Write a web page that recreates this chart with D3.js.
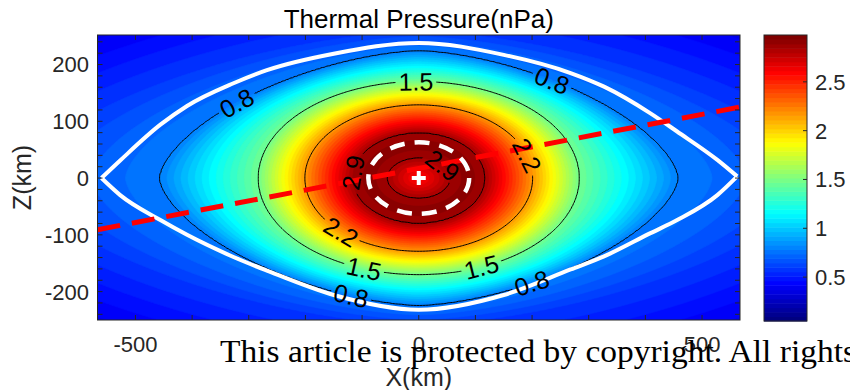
<!DOCTYPE html>
<meta charset="utf-8">
<head>
<style>
  body { margin: 0; background: white; }
  svg { display: block; font-family: "Liberation Sans", Arial, Helvetica, sans-serif; }
</style>
<script src="https://cdn.jsdelivr.net/npm/d3@7"></script>
</head>
<body>
<svg id="chart" width="850" height="390"></svg>
<script>
// axis ranges (km) and colour range (nPa)
const xDomain = [-567, 567]
const zDomain = [-250, 252]
const cDomain = [0.05, 2.98]

// pressure profile: each ring is the contour of that value
// (semi-axes in km, shape exponent 2 = ellipse), from the centre outwards
const profileValue = [2.6, 2.9, 2.98, 2.9, 2.2, 1.5, 0.8, 0.6, 0.4, 0.2]
const profileSemiX = [1, 55, 88, 117, 201, 283, 457, 700, 950, 1300]
const profileSemiZ = [1, 35, 58, 80, 129, 170, 224, 258, 350, 460]
const profilePower = [2, 2, 2, 2, 2, 2, 1.6, 1.6, 1.6, 1.6]

const lineLevels = [0.8, 1.5, 2.2, 2.9]
const bandLevels = d3.range(1, 60).map(i => +(i * 0.05).toFixed(2))

// contour labels: which ring, and where on it (degrees around the ring)
const labelRing = [6, 6, 6, 6, 5, 5, 5, 4, 4, 3, 1]
const labelAngle = [139, 54, 250, 301, 91, 250, 293, 18, 227, 173, 40]

// white boundary curve
const boundaryX = [-560, -527, -456, -409, -327, -268, -150, 0, 150, 268, 327, 409, 456, 527, 562]
const boundaryTop = [0, 31, 94, 127, 167, 190, 219, 238, 217, 185, 161, 114, 82, 32, 3]
const boundaryBottom = [0, -30, -74, -100, -139, -163, -206, -232, -206, -161, -138, -97, -74, -30, 3]

// red dashed line (end points), white dashed ring (semi-axes), centre marker
const redLineX = [-567, 567]
const redLineZ = [-91, 125]
const ringSemi = [89, 63]
const markerX = [0]
const markerZ = [0]

const xTicks = d3.range(-500, 501, 100)
const xTickLabels = [-500, 0, 500]
const zTicks = d3.range(-240, 241, 20)
const zTickLabels = [-200, -100, 0, 100, 200]
const cTicks = [0.5, 1, 1.5, 2, 2.5]

const ink = "#262626"

function jet(t) {
    t = Math.max(0, Math.min(1, t))
    let c = v => Math.round(255 * Math.max(0, Math.min(1, v)))
    return d3.rgb(c(1.5 - Math.abs(4 * t - 3)), c(1.5 - Math.abs(4 * t - 2)), c(1.5 - Math.abs(4 * t - 1))).toString()
}

function pressureAt(x, z) {
    let n = profileValue.length
    let shape = s => {
        let k = Math.min(Math.floor(s), n - 2), f = s - k
        let a = profileSemiX[k] + f * (profileSemiX[k + 1] - profileSemiX[k])
        let b = profileSemiZ[k] + f * (profileSemiZ[k + 1] - profileSemiZ[k])
        let p = profilePower[k] + f * (profilePower[k + 1] - profilePower[k])
        return Math.pow(Math.abs(x) / a, p) + Math.pow(Math.abs(z) / b, p)
    }
    if (shape(0) <= 1) return profileValue[0]
    if (shape(n - 1) >= 1) return profileValue[n - 1]
    let lo = 0, hi = n - 1
    for (let it = 0; it < 28; it++) {
        let mid = (lo + hi) / 2
        if (shape(mid) > 1) lo = mid; else hi = mid
    }
    let s = (lo + hi) / 2
    let k = Math.min(Math.floor(s), n - 2), f = s - k
    return profileValue[k] + f * (profileValue[k + 1] - profileValue[k])
}

function ringPoint(k, deg) {
    let t = deg * Math.PI / 180, p = profilePower[k]
    let c = Math.cos(t), s = Math.sin(t)
    return [profileSemiX[k] * Math.sign(c) * Math.pow(Math.abs(c), 2 / p),
            profileSemiZ[k] * Math.sign(s) * Math.pow(Math.abs(s), 2 / p)]
}

function draw() {
    let svg = d3.select("#chart")
    let plot = { left: 97.5, right: 740, top: 35, bottom: 320 }
    let bar = { left: 764, right: 807, top: 35, bottom: 321 }

    let xScale = d3.scaleLinear().domain(xDomain).range([plot.left, plot.right])
    let zScale = d3.scaleLinear().domain(zDomain).range([plot.bottom, plot.top])
    let cScale = d3.scaleLinear().domain(cDomain).range([bar.bottom, bar.top])
    let color = d3.scaleSequential(jet).domain(cDomain)

    svg.append("defs").append("clipPath").attr("id", "plotClip")
        .append("rect")
        .attr("x", plot.left).attr("y", plot.top)
        .attr("width", plot.right - plot.left).attr("height", plot.bottom - plot.top)

    // sample the field on a grid covering the axes
    let nx = 430, ny = 190
    let dx = (xDomain[1] - xDomain[0]) / nx, dz = (zDomain[1] - zDomain[0]) / ny
    let values = new Float64Array(nx * ny)
    for (let j = 0; j < ny; j++) {
        for (let i = 0; i < nx; i++) {
            values[j * nx + i] = pressureAt(xDomain[0] + (i + 0.5) * dx, zDomain[1] - (j + 0.5) * dz)
        }
    }
    let gridPath = d3.geoPath(d3.geoTransform({
        point: function (gx, gy) {
            this.stream.point(xScale(xDomain[0] + gx * dx), zScale(zDomain[1] - gy * dz))
        }
    }))

    let body = svg.append("g").attr("clip-path", "url(#plotClip)")
    body.append("rect")
        .attr("x", plot.left).attr("y", plot.top)
        .attr("width", plot.right - plot.left).attr("height", plot.bottom - plot.top)
        .attr("fill", color(cDomain[0]))

    let bands = d3.contours().size([nx, ny]).thresholds(bandLevels)(values)
    body.append("g").selectAll("path")
        .data(bands)
        .enter().append("path")
        .attr("d", gridPath)
        .attr("fill", d => color(d.value))
        .attr("stroke", d => color(d.value))
        .attr("stroke-width", 0.6)

    // where the contour labels sit, and their rotation along the ring
    let labels = labelRing.map((k, i) => {
        let p = ringPoint(k, labelAngle[i])
        let p1 = ringPoint(k, labelAngle[i] - 0.5), p2 = ringPoint(k, labelAngle[i] + 0.5)
        let ang = Math.atan2(zScale(p2[1]) - zScale(p1[1]), xScale(p2[0]) - xScale(p1[0])) * 180 / Math.PI
        if (ang > 90) ang -= 180
        if (ang <= -90) ang += 180
        return { text: String(profileValue[k]), cx: xScale(p[0]), cy: zScale(p[1]), ang }
    })

    let mask = svg.select("defs").append("mask").attr("id", "gapMask")
    mask.append("rect").attr("x", 0).attr("y", 0).attr("width", 850).attr("height", 390).attr("fill", "white")

    let lines = d3.contours().size([nx, ny]).thresholds(lineLevels)(values)
    body.append("g").attr("mask", "url(#gapMask)")
        .selectAll("path")
        .data(lines)
        .enter().append("path")
        .attr("d", gridPath)
        .attr("fill", "none")
        .attr("stroke", "black")
        .attr("stroke-width", 1)

    // white boundary
    let boundaryLine = d3.line().curve(d3.curveMonotoneX)
    ;[boundaryTop, boundaryBottom].forEach(zs => {
        body.append("path")
            .attr("d", boundaryLine(boundaryX.map((x, i) => [xScale(x), zScale(zs[i])])))
            .attr("fill", "none")
            .attr("stroke", "white")
            .attr("stroke-width", 4)
    })

    // red dashed line
    body.append("line")
        .attr("x1", xScale(redLineX[0])).attr("y1", zScale(redLineZ[0]))
        .attr("x2", xScale(redLineX[1])).attr("y2", zScale(redLineZ[1]))
        .attr("stroke", "#ff0000")
        .attr("stroke-width", 5)
        .attr("stroke-dasharray", "23,12")

    // white dashed ring
    body.append("ellipse")
        .attr("cx", xScale(0)).attr("cy", zScale(0))
        .attr("rx", xScale(ringSemi[0]) - xScale(0))
        .attr("ry", zScale(0) - zScale(ringSemi[1]))
        .attr("fill", "none")
        .attr("stroke", "white")
        .attr("stroke-width", 4.5)
        .attr("stroke-dasharray", "15,10")

    let labelText = body.append("g").selectAll("text")
        .data(labels)
        .enter().append("text")
        .attr("transform", d => `translate(${d.cx},${d.cy}) rotate(${d.ang})`)
        .attr("text-anchor", "middle")
        .attr("dy", "0.36em")
        .attr("font-size", 25)
        .attr("fill", "black")
        .text(d => d.text)

    labelText.each(function (d) {
        let w = this.getComputedTextLength() + 6
        mask.append("rect")
            .attr("x", -w / 2).attr("y", -10).attr("width", w).attr("height", 20)
            .attr("transform", `translate(${d.cx},${d.cy}) rotate(${d.ang})`)
            .attr("fill", "black")
    })

    // centre marker
    body.selectAll(".marker")
        .data(markerX)
        .enter().append("path")
        .attr("class", "marker")
        .attr("d", (d, i) => {
            let cx = xScale(d), cy = zScale(markerZ[i])
            return `M${cx - 7},${cy}H${cx + 7}M${cx},${cy - 7}V${cy + 7}`
        })
        .attr("stroke", "white")
        .attr("stroke-width", 4)

    // axes box and ticks
    let frame = svg.append("g").attr("stroke", ink).attr("stroke-width", 1).attr("fill", "none")
    frame.append("rect")
        .attr("x", plot.left).attr("y", plot.top)
        .attr("width", plot.right - plot.left).attr("height", plot.bottom - plot.top)
    frame.selectAll(".xt").data(xTicks).enter().append("path")
        .attr("d", d => `M${xScale(d)},${plot.bottom}v-5M${xScale(d)},${plot.top}v5`)
    frame.selectAll(".zt").data(zTicks).enter().append("path")
        .attr("d", d => `M${plot.left},${zScale(d)}h5M${plot.right},${zScale(d)}h-5`)

    svg.append("g").selectAll("text")
        .data(xTickLabels)
        .enter().append("text")
        .attr("x", d => xScale(d)).attr("y", 352)
        .attr("text-anchor", "middle")
        .attr("font-size", 22)
        .attr("fill", ink)
        .text(d => d)

    svg.append("g").selectAll("text")
        .data(zTickLabels)
        .enter().append("text")
        .attr("x", 89).attr("y", d => zScale(d))
        .attr("dy", "0.36em")
        .attr("text-anchor", "end")
        .attr("font-size", 22)
        .attr("fill", ink)
        .text(d => d)

    svg.append("text")
        .attr("x", (plot.left + plot.right) / 2).attr("y", 28)
        .attr("text-anchor", "middle")
        .attr("font-size", 26)
        .attr("fill", "black")
        .text("Thermal Pressure(nPa)")

    svg.append("text")
        .attr("transform", `translate(31,${(plot.top + plot.bottom) / 2}) rotate(-90)`)
        .attr("text-anchor", "middle")
        .attr("font-size", 25)
        .attr("fill", ink)
        .text("Z(km)")

    svg.append("text")
        .attr("x", (plot.left + plot.right) / 2).attr("y", 386)
        .attr("text-anchor", "middle")
        .attr("font-size", 25)
        .attr("fill", ink)
        .text("X(km)")

    // colorbar
    let nColors = 64
    let step = (cDomain[1] - cDomain[0]) / nColors
    svg.append("g").selectAll("rect")
        .data(d3.range(nColors))
        .enter().append("rect")
        .attr("x", bar.left)
        .attr("width", bar.right - bar.left)
        .attr("y", i => cScale(cDomain[0] + (i + 1) * step))
        .attr("height", i => cScale(cDomain[0] + i * step) - cScale(cDomain[0] + (i + 1) * step) + 0.5)
        .attr("fill", i => jet(i / (nColors - 1)))

    let cbFrame = svg.append("g").attr("stroke", ink).attr("stroke-width", 1).attr("fill", "none")
    cbFrame.append("rect")
        .attr("x", bar.left).attr("y", bar.top)
        .attr("width", bar.right - bar.left).attr("height", bar.bottom - bar.top)
    cbFrame.selectAll(".ct").data(cTicks).enter().append("path")
        .attr("d", d => `M${bar.right},${cScale(d)}h-4`)

    svg.append("g").selectAll("text")
        .data(cTicks)
        .enter().append("text")
        .attr("x", 815).attr("y", d => cScale(d))
        .attr("dy", "0.36em")
        .attr("font-size", 22)
        .attr("fill", ink)
        .text(d => d)

    // overlay line of the source page
    svg.append("text")
        .attr("x", 220).attr("y", 362)
        .attr("font-family", "'Liberation Serif', 'DejaVu Serif', serif")
        .attr("font-size", 32)
        .attr("textLength", 636)
        .attr("lengthAdjust", "spacingAndGlyphs")
        .attr("fill", "black")
        .text("This article is protected by copyright. All rights")
}

draw()
</script>
</body>
